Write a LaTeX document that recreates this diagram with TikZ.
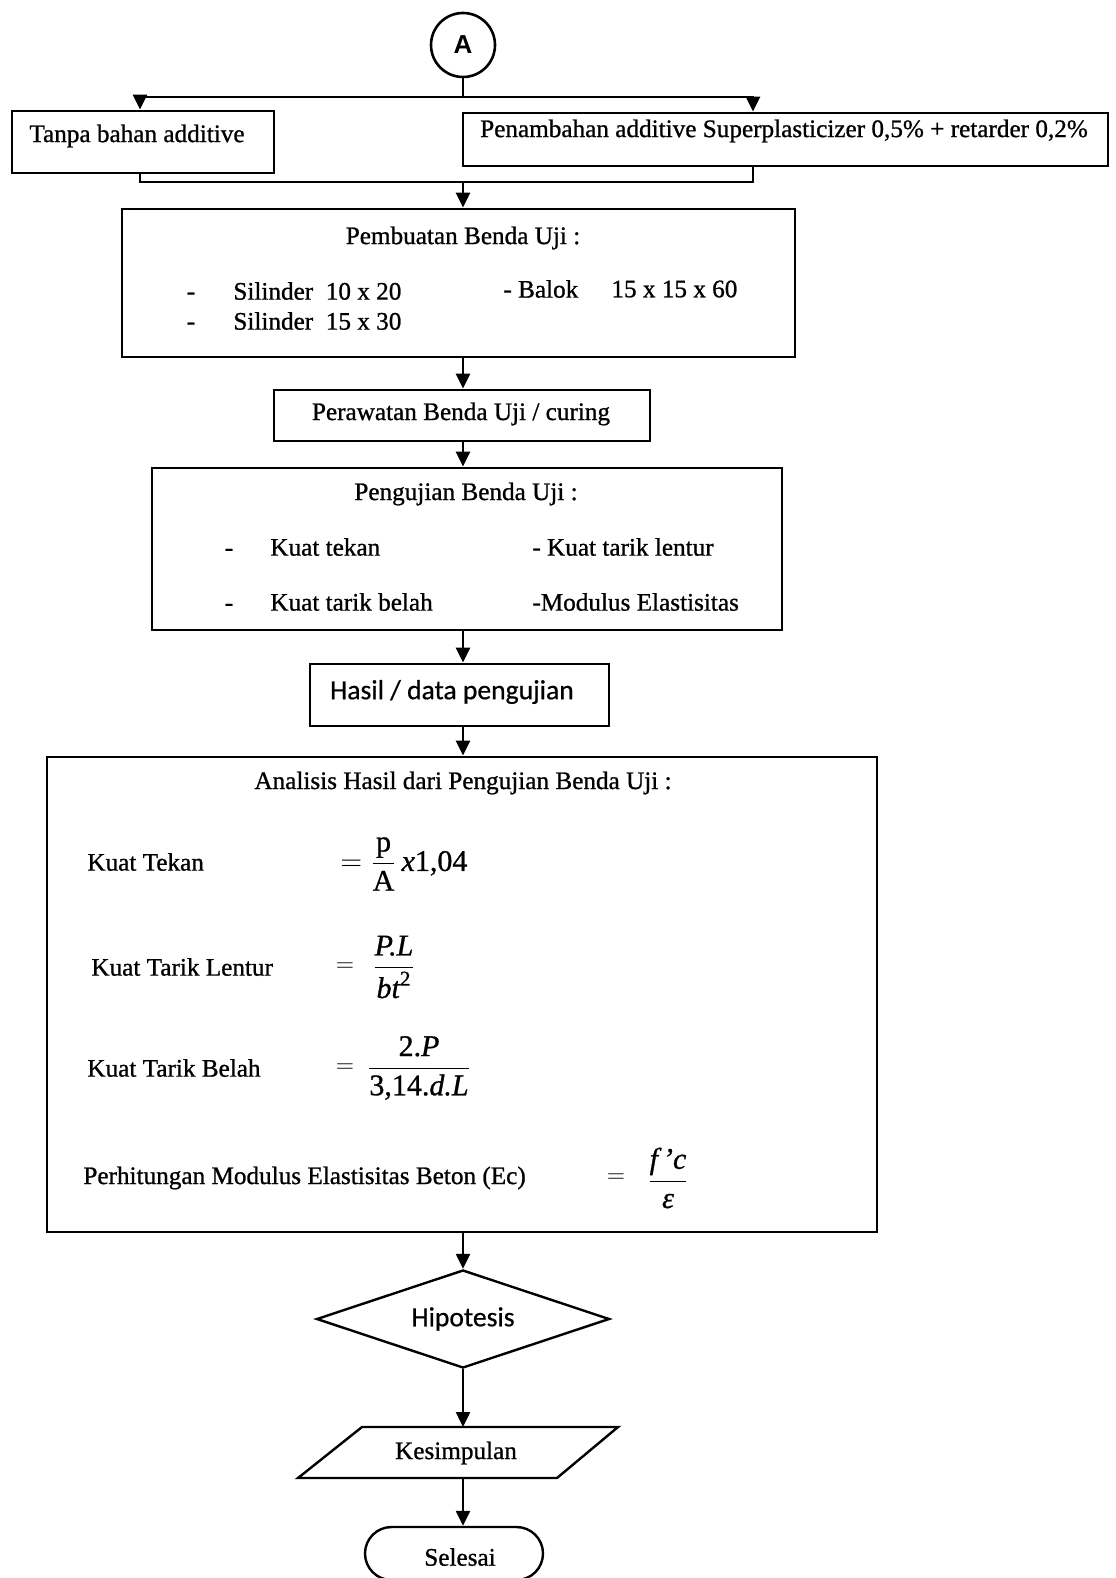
\documentclass[tikz,border=0pt]{standalone}
\usepackage{fontspec}
\usepackage{amsmath}
\setmainfont[FakeBold=0.9]{Liberation Serif}
\newfontfamily\calfont[FakeBold=0.6]{Carlito}
\newfontfamily\arialfont{Liberation Sans}
\usetikzlibrary{arrows.meta,shapes.geometric,shapes.misc,fit}
\begin{document}
\begin{tikzpicture}[x=0.5pt,y=-0.5pt,
  txt/.style={inner sep=0pt, font=\fontsize{12.6}{15}\selectfont},
  fml/.style={inner sep=0pt, font=\fontsize{15}{18}\selectfont},
  cal/.style={inner sep=0pt, font=\calfont\fontsize{13.8}{16}\selectfont},
  boxst/.style={draw, line width=1.4pt, inner sep=0pt},
  ln/.style={line width=1.2pt},
  arr/.style={line width=1.2pt, -{Triangle[length=7.5pt,width=7pt]}}]
\useasboundingbox (0,0) rectangle (1115,1578);
\fill[white] (0,0) rectangle (1115,1578);
\coordinate (sx) at (463,0);
\coordinate (lx) at (140,0);
\coordinate (rx) at (753,0);
% connector A
\node[draw, circle, line width=1.3pt, minimum size=32pt, inner sep=0pt,
      font=\arialfont\bfseries\fontsize{13}{15}\selectfont] (cA) at (463,45) {A};
% first row
\node[boxst, fit={(12,111) (274,173)}] (left) {};
\node[txt] (tleft) at (137,136) {Tanpa bahan additive};
\node[boxst, fit={(463,113) (1108,166)}] (right) {};
\node[txt] (tright) at (784,131) {Penambahan additive Superplasticizer 0,5\% + retarder 0,2\%};
\coordinate (jt) at (463,97);
\coordinate (jb) at (463,182);
\draw[ln] (cA) -- (jt);
\draw[arr] (jt) -| (left.north -| lx);
\draw[arr] (jt) -| (right.north -| rx);
\draw[ln] (left.south -| lx) |- (jb) -| (right.south -| rx);
% Pembuatan
\node[boxst, fit={(122,209) (795,357)}] (pemb) {};
\node[txt] (tpemb) at (463,238) {Pembuatan Benda Uji :};
\node[txt] (d1) at (191,291) {\vphantom{Sk}-};
\node[txt, anchor=west] (s1) at (233,291) {Silinder\ \ 10 x 20};
\node[txt] (d2) at (191,321) {\vphantom{Sk}-};
\node[txt, anchor=west] (s2) at (233,321) {Silinder\ \ 15 x 30};
\node[txt, anchor=west] (b1) at (503,289) {- Balok};
\node[txt, anchor=west] (b2) at (611,289) {15 x 15 x 60};
\draw[arr] (jb) -- (pemb.north -| sx);
% Perawatan
\node[boxst, fit={(274,390) (650,441)}] (peraw) {};
\node[txt] (tperaw) at (461,414) {Perawatan Benda Uji / curing};
\draw[arr] (pemb.south -| sx) -- (peraw.north -| sx);
% Pengujian
\node[boxst, fit={(152,468) (782,630)}] (peng) {};
\node[txt] (tpeng) at (466,494) {Pengujian Benda Uji :};
\node[txt] (e1) at (229,547) {\vphantom{Kk}-};
\node[txt, anchor=west] (k1) at (270,547) {Kuat tekan};
\node[txt, anchor=west] (k2) at (532,547) {- Kuat tarik lentur};
\node[txt] (e2) at (229,602) {\vphantom{Kk}-};
\node[txt, anchor=west] (k3) at (270,602) {Kuat tarik belah};
\node[txt, anchor=west] (k4) at (532,602) {-Modulus Elastisitas};
\draw[arr] (peraw.south -| sx) -- (peng.north -| sx);
% Hasil
\node[boxst, fit={(310,664) (609,726)}] (hasil) {};
\node[cal] (thasil) at (452,692) {Hasil / data pengujian};
\draw[arr] (peng.south -| sx) -- (hasil.north -| sx);
% Analisis
\node[boxst, fit={(47,757) (877,1232)}] (anal) {};
\node[txt] (tanal) at (463,783) {Analisis Hasil dari Pengujian Benda Uji :};
\draw[arr] (hasil.south -| sx) -- (anal.north -| sx);
\node[txt, anchor=west] (l1) at (87,862) {Kuat Tekan};
\node[fml, anchor=west] (f1) at (340,864) {$=\dfrac{\text{p}}{\text{A}}\,\textit{x}\text{1,04}$};
\node[txt, anchor=west] (l2) at (91,967) {Kuat Tarik Lentur};
\node[txt] (q2) at (345,967) {$=$};
\node[fml] (f2) at (394,967) {$\dfrac{\textit{P.L}}{\textit{bt}^{\text{2}}}$};
\node[txt, anchor=west] (l3) at (87,1068) {Kuat Tarik Belah};
\node[txt] (q3) at (345,1068) {$=$};
\node[fml] (f3) at (419,1068) {$\dfrac{\text{2.}\textit{P}}{\text{3,14.}\textit{d.L}}$};
\node[txt, anchor=west] (l4) at (83,1178) {Perhitungan Modulus Elastisitas Beton (Ec)};
\node[txt] (q4) at (616,1178) {$=$};
\node[fml] (f4) at (668,1178) {$\dfrac{\textit{f\,'c}}{\textit{ε}}$};
% Hipotesis
\node[draw, diamond, aspect=3, minimum width=146.5pt, minimum height=49pt,
      inner sep=0pt, line width=1.2pt, font=\calfont\fontsize{13.8}{16}\selectfont] (hip) at (463,1319) {Hipotesis};
\draw[arr] (anal.south -| sx) -- (hip.north);
% Kesimpulan
\coordinate (kTL) at (362,1427);
\coordinate (kTR) at (618,1427);
\coordinate (kBR) at (557,1478);
\coordinate (kBL) at (298,1478);
\draw[ln] (kTL) -- (kTR) -- (kBR) -- (kBL) -- cycle;
\node[txt] (tkes) at (456,1453) {Kesimpulan};
\coordinate (kesTop) at (463,1427);
\coordinate (kesBot) at (463,1478);
\draw[arr] (hip.south) -- (kesTop);
% Selesai
\node[draw, rounded rectangle, line width=1.2pt, minimum width=89pt, minimum height=26.5pt,
      inner sep=0pt] (sel) at (454,1553.5) {};
\node[txt] (tsel) at (460,1557) {Selesai};
\draw[arr] (kesBot) -- (sel.north -| sx);
\end{tikzpicture}
\end{document}
